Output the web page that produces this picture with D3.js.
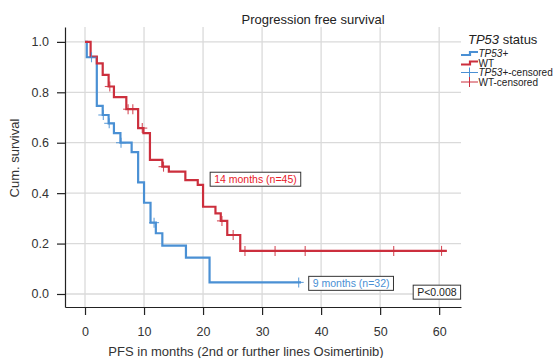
<!DOCTYPE html>
<html>
<head>
<meta charset="utf-8">
<script src="https://cdn.jsdelivr.net/npm/d3@7"></script>
<style>
  body { margin: 0; background: #fff; }
  svg { display: block; font-family: 'Liberation Sans', Arial, sans-serif; }
</style>
</head>
<body>
<div id="chart"></div>
<script>
// Kaplan-Meier steps: step start (months) and survival after it
const tp53Times = [0, 0.3, 2.0, 3.0, 4.0, 4.9, 6.0, 7.9, 9.0, 10.0, 11.1, 12.0, 13.1, 17.1, 21.1];
const tp53Surv = [1.0, 0.939, 0.746, 0.71, 0.677, 0.638, 0.60, 0.563, 0.443, 0.362, 0.283, 0.241, 0.192, 0.144, 0.046];
const tp53End = 36.6;
const tp53Censored = [1.1, 3.1, 4.1, 6.1, 11.7, 36.2];

const wtTimes = [0, 0.95, 2.0, 3.0, 4.0, 4.9, 7.0, 9.0, 9.9, 11.0, 13.1, 14.2, 17.0, 19.1, 20.0, 22.1, 23.0, 24.1, 26.3];
const wtSurv = [1.0, 0.942, 0.915, 0.869, 0.823, 0.781, 0.733, 0.658, 0.638, 0.532, 0.505, 0.485, 0.452, 0.433, 0.346, 0.320, 0.290, 0.234, 0.171];
const wtEnd = 61.3;
const wtCensored = [4.2, 7.3, 8.1, 9.7, 13.3, 23.2, 25.1, 27.1, 32.2, 37.3, 52.3, 60.4];

const xTicks = [0, 10, 20, 30, 40, 50, 60];
const yTicks = [0, 0.2, 0.4, 0.6, 0.8, 1.0];

const medianLabels = ['14 months (n=45)', '9 months (n=32)'];
const pValueLabel = 'P<0.008';

const blue = '#4a90d4';
const red = '#cc2f3d';

const width = 558;
const height = 358;

const x = d3.scaleLinear().domain([-3.39, 63.7]).range([65, 461]);
const y = d3.scaleLinear().domain([-0.0516, 1.059]).range([307, 27]);

const svg = d3.select('#chart').append('svg')
  .attr('width', width)
  .attr('height', height);

// grid
svg.append('g')
  .attr('stroke', '#dadada')
  .attr('stroke-width', 1.3)
  .selectAll('line.v')
  .data(xTicks)
  .join('line')
  .attr('x1', (d) => x(d)).attr('x2', (d) => x(d))
  .attr('y1', 27).attr('y2', 307);

svg.append('g')
  .attr('stroke', '#dadada')
  .attr('stroke-width', 1.3)
  .selectAll('line.h')
  .data(yTicks)
  .join('line')
  .attr('x1', 65).attr('x2', 461)
  .attr('y1', (d) => y(d)).attr('y2', (d) => y(d));

function survAt(times, surv, t) {
  let i = d3.bisectRight(times, t) - 1;
  if (i < 0) i = 0;
  return surv[i];
}

function stepPoints(times, surv, end) {
  const pts = times.map((t, i) => [t, surv[i]]);
  pts.push([end, surv[surv.length - 1]]);
  return pts;
}

const line = d3.line()
  .x((d) => x(d[0]))
  .y((d) => y(d[1]))
  .curve(d3.curveStepAfter);

const groups = [
  {times: tp53Times, surv: tp53Surv, end: tp53End, censored: tp53Censored, color: blue},
  {times: wtTimes, surv: wtSurv, end: wtEnd, censored: wtCensored, color: red},
];

groups.forEach((g) => {
  svg.append('path')
    .datum(stepPoints(g.times, g.surv, g.end))
    .attr('fill', 'none')
    .attr('stroke', g.color)
    .attr('stroke-width', 2.2)
    .attr('d', line);
});

// censoring marks
groups.forEach((g) => {
  const marks = svg.append('g')
    .attr('stroke', g.color)
    .attr('stroke-width', 1.1)
    .attr('stroke-opacity', 0.85)
    .selectAll('g')
    .data(g.censored)
    .join('g')
    .attr('transform', (d) => `translate(${x(d)},${y(survAt(g.times, g.surv, d))})`);
  marks.append('line').attr('x1', -5).attr('x2', 5);
  marks.append('line').attr('y1', -5).attr('y2', 5);
});

// median boxes
function labelBox(text, bx, by, color) {
  const g = svg.append('g').attr('transform', `translate(${bx},${by})`);
  const t = g.append('text')
    .attr('x', 4)
    .attr('y', 10.5)
    .attr('font-size', 10.5)
    .attr('fill', color)
    .text(text);
  const w = t.node().getComputedTextLength() + 8;
  g.insert('rect', 'text')
    .attr('width', w)
    .attr('height', 14)
    .attr('fill', '#fff')
    .attr('stroke', '#333')
    .attr('stroke-width', 1);
}

labelBox(medianLabels[0], x(21.2), y(0.483), '#e8202a');
labelBox(medianLabels[1], x(37.9), y(0.07), blue);
labelBox(pValueLabel, x(55.6), y(0.035), '#222');

// axes
const xAxis = svg.append('g')
  .attr('transform', 'translate(0,307)')
  .call(d3.axisBottom(x).tickValues(xTicks).tickSize(8).tickSizeOuter(0).tickPadding(12));
const yAxis = svg.append('g')
  .attr('transform', 'translate(65,0)')
  .call(d3.axisLeft(y).tickValues(yTicks).tickSize(8).tickSizeOuter(0).tickPadding(8)
    .tickFormat(d3.format('.1f')));

[xAxis, yAxis].forEach((a) => {
  a.selectAll('text').attr('font-size', 12.5).attr('fill', '#333')
    .attr('font-family', 'Liberation Sans, Arial, sans-serif');
  a.selectAll('path, line').attr('stroke', '#222').attr('stroke-width', 1.2);
});

svg.append('text')
  .attr('x', 313)
  .attr('y', 24)
  .attr('text-anchor', 'middle')
  .attr('font-size', 13)
  .attr('fill', '#222')
  .text('Progression free survival');

svg.append('text')
  .attr('x', 246)
  .attr('y', 356)
  .attr('text-anchor', 'middle')
  .attr('font-size', 13)
  .attr('fill', '#333')
  .text('PFS in months (2nd or further lines Osimertinib)');

svg.append('text')
  .attr('transform', 'translate(19,158) rotate(-90)')
  .attr('text-anchor', 'middle')
  .attr('font-size', 13)
  .attr('fill', '#333')
  .text('Cum. survival');

// legend
const legend = svg.append('g').attr('transform', 'translate(461,0)');
const legendTitle = legend.append('text')
  .attr('x', 7)
  .attr('y', 44)
  .attr('font-size', 13)
  .attr('fill', '#222');
legendTitle.append('tspan').attr('font-style', 'italic').text('TP53');
legendTitle.append('tspan').text(' status');

const legendItems = [
  {label: ['TP53', '+'], color: blue, kind: 'step'},
  {label: ['', 'WT'], color: red, kind: 'step'},
  {label: ['TP53', '+-censored'], color: blue, kind: 'cross'},
  {label: ['', 'WT-censored'], color: red, kind: 'cross'},
];

const item = legend.selectAll('g.item')
  .data(legendItems)
  .join('g')
  .attr('class', 'item')
  .attr('transform', (d, i) => `translate(0,${53.5 + i * 9.5})`);

item.filter((d) => d.kind === 'step').append('path')
  .attr('d', 'M0,1.5H9V-1.5H17')
  .attr('fill', 'none')
  .attr('stroke', (d) => d.color)
  .attr('stroke-width', 2.2);

item.filter((d) => d.kind === 'cross').append('path')
  .attr('d', 'M0,0H17M8.5,-5V5')
  .attr('stroke', (d) => d.color)
  .attr('stroke-width', 1);

const itemText = item.append('text')
  .attr('x', 17.5)
  .attr('y', 3.6)
  .attr('font-size', 10)
  .attr('fill', '#222');
itemText.append('tspan').attr('font-style', 'italic').text((d) => d.label[0]);
itemText.append('tspan').text((d) => d.label[1]);
</script>
</body>
</html>
